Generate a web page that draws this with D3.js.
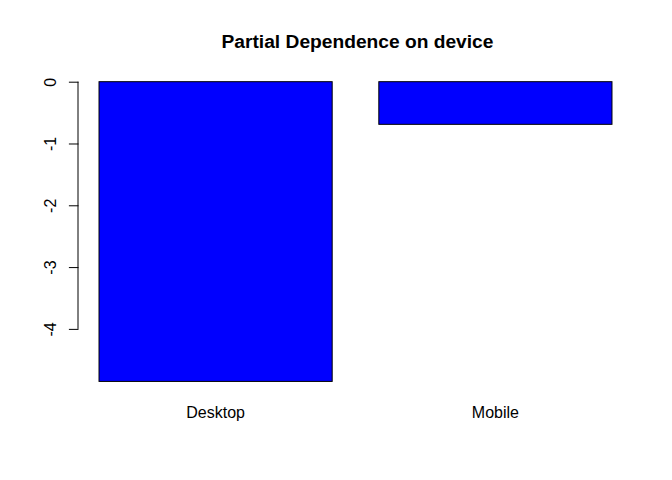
<!DOCTYPE html>
<html>
<head>
<meta charset="utf-8">
<script src="https://cdn.jsdelivr.net/npm/d3@7"></script>
<style>
  html, body { margin: 0; padding: 0; background: #ffffff; }
  svg { display: block; }
  text { font-family: "Liberation Sans", Arial, Helvetica, sans-serif; fill: #000; }
</style>
</head>
<body>
<script>
// ---- data ----
const categories = ["Desktop", "Mobile"];
const values = [-4.85, -0.69];
const yTicks = [0, -1, -2, -3, -4];
const yTickLabels = ["0", "-1", "-2", "-3", "-4"];
const title = "Partial Dependence on device";

// ---- layout ----
const W = 672, H = 480;
const plot = { left: 78.5, right: 632.5, top: 69.7, bottom: 393.4 };

const svg = d3.select("body").append("svg")
  .attr("width", W).attr("height", H);

// R barplot style geometry: width 1, space 0.2
const space = 0.2, barW = 1;
const wl = categories.map((c, i) => space + i * (space + barW));
const wr = wl.map(v => v + barW);
const xMin = d3.min(wl), xMax = d3.max(wr);
const xPad = (xMax - xMin) * 0.04;
const x = d3.scaleLinear().domain([xMin - xPad, xMax + xPad]).range([plot.left, plot.right]);

const yLo = Math.min(0, d3.min(values)), yHi = Math.max(0, d3.max(values));
const yPad = (yHi - yLo) * 0.04;
const y = d3.scaleLinear().domain([yLo - yPad, yHi + yPad]).range([plot.bottom, plot.top]);

// bars
svg.append("g").selectAll("rect")
  .data(values)
  .join("rect")
  .attr("x", (d, i) => x(wl[i]))
  .attr("width", (d, i) => x(wr[i]) - x(wl[i]))
  .attr("y", d => y(Math.max(0, d)))
  .attr("height", d => Math.abs(y(d) - y(0)))
  .attr("fill", "#0000ff")
  .attr("stroke", "#000")
  .attr("stroke-width", 1);

// y axis
const yAxis = d3.axisLeft(y)
  .tickValues(yTicks)
  .tickSize(9.6)
  .tickFormat((d, i) => yTickLabels[i]);

const gy = svg.append("g")
  .attr("transform", `translate(${plot.left},0)`)
  .call(yAxis);
gy.select(".domain")
  .attr("d", `M-0.5,${y(d3.max(yTicks))}V${y(d3.min(yTicks))}`)
  .attr("stroke", "#000");
gy.selectAll(".tick line").attr("stroke", "#000");
gy.selectAll(".tick text")
  .attr("x", null).attr("dy", null)
  .attr("text-anchor", "middle")
  .attr("font-size", "16px")
  .attr("font-family", "Liberation Sans, Arial, Helvetica, sans-serif")
  .attr("transform", `translate(${56 - plot.left},0) rotate(-90)`);

// x category labels
svg.append("g").selectAll("text")
  .data(categories)
  .join("text")
  .attr("x", (d, i) => x((wl[i] + wr[i]) / 2))
  .attr("y", 418)
  .attr("text-anchor", "middle")
  .attr("font-size", "16px")
  .text(d => d);

// title
svg.append("text")
  .attr("x", (plot.left + plot.right) / 2 + 2)
  .attr("y", 48)
  .attr("text-anchor", "middle")
  .attr("font-size", "19.2px")
  .attr("font-weight", "bold")
  .text(title);
</script>
</body>
</html>
